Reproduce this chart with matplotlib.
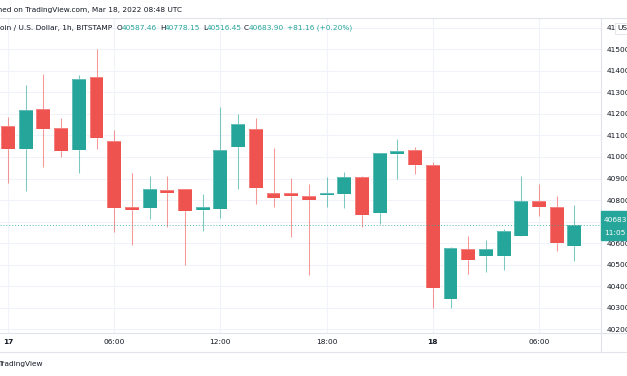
import matplotlib.pyplot as plt
from matplotlib.lines import Line2D
from matplotlib.patches import Rectangle

W, H = 627, 376
green = "#26a69a"
red = "#ef5350"
text_color = "#131722"
grid_color = "#f0f3fa"
border_color = "#e0e3eb"
fs = 5.3

# hourly candles, Mar 17 00:00 onwards
hours = list(range(33))
opens = [41144, 41036, 41225, 41135, 41033, 41370, 41073, 40766, 40763, 40847, 40853, 40754, 40760,
         41048, 41131, 40834, 40831, 40819, 40825, 40828, 40906, 40741, 41014, 41031, 40963, 40339,
         40574, 40542, 40542, 40632, 40796, 40768, 40587.46]
closes = [41036, 41220, 41131, 41026, 41361, 41088, 40763, 40754, 40850, 40831, 40748, 40769, 41031,
          41153, 40855, 40810, 40820, 40800, 40834, 40906, 40732, 41017, 41026, 40961, 40392, 40576,
          40523, 40571, 40656, 40797, 40769, 40601, 40683.90]
highs = [41187, 41334, 41385, 41181, 41381, 41500, 41125, 40926, 40912, 40910, 40853, 40828, 41232,
         41200, 41181, 41042, 40902, 40875, 40909, 40929, 40912, 41017, 41082, 41045, 40977, 40581,
         40632, 40616, 40666, 40912, 40875, 40818, 40778.15]
lows = [40878, 40844, 40955, 41000, 40926, 41036, 40653, 40591, 40714, 40676, 40497, 40658, 40718,
        40851, 40783, 40769, 40630, 40451, 40769, 40763, 40674, 40690, 40896, 40921, 40300, 40300,
        40457, 40466, 40477, 40632, 40727, 40565, 40516.45]

price_ticks = list(range(40200, 41700, 100))
time_ticks = [0, 6, 12, 18, 24, 30]
time_labels = ["17", "06:00", "12:00", "18:00", "18", "06:00"]
last_price = 40683.90


def fx(x):
    return x / W


def fy(y):
    return 1 - y / H


fig = plt.figure(figsize=(W / 100, H / 100), dpi=100)
fig.patch.set_facecolor("white")
ax = fig.add_axes([0, fy(333), fx(601), fy(18) - fy(333)])

colors = [green if c >= o else red for o, c in zip(opens, closes)]
bottoms = [min(o, c) for o, c in zip(opens, closes)]
heights = [max(abs(c - o), 3) for o, c in zip(opens, closes)]
ax.vlines(hours, lows, highs, colors=colors, linewidth=0.75, alpha=0.6, zorder=2)
ax.bar(hours, heights, bottom=bottoms, width=0.79, color=colors, zorder=3)
ax.bar(hours, heights, bottom=bottoms, width=0.79, facecolor="none", edgecolor="white",
       linewidth=0.4, alpha=0.5, zorder=3)

ax.axhline(last_price, color=green, linewidth=0.7, linestyle=(0, (1, 2)), alpha=0.8, zorder=4)

ax.set_xlim(-8 / 17.7, 593 / 17.7)
ax.set_ylim(40182.8, 41645.4)
ax.set_yticks(price_ticks)
ax.set_xticks(time_ticks)
ax.set_xticklabels(time_labels)
for lbl, t in zip(ax.get_xticklabels(), time_labels):
    if ":" not in t:
        lbl.set_fontweight("bold")
ax.yaxis.tick_right()
ax.tick_params(axis="y", length=0, pad=4.3, labelsize=fs, labelcolor=text_color)
ax.tick_params(axis="x", length=0, pad=4.0, labelsize=fs, labelcolor=text_color)
ax.grid(True, color=grid_color, linewidth=0.8, zorder=0)
ax.set_axisbelow(True)
for s in ax.spines.values():
    s.set_visible(False)

# frame lines
for y in (18, 333, 352):
    fig.add_artist(Line2D([0, 1], [fy(y), fy(y)], color=border_color, linewidth=0.8))
fig.add_artist(Line2D([fx(601), fx(601)], [fy(18), fy(352)], color=border_color, linewidth=0.8))

# last price label
fig.add_artist(Rectangle((fx(601), fy(240)), fx(30), fy(211) - fy(240), color=green, zorder=5))
fig.text(fx(604), fy(220), "40683.90", fontsize=fs, color="white", va="center", zorder=6)
fig.text(fx(604), fy(233), "11:05", fontsize=fs, color="white", va="center", zorder=6)

# currency label
fig.add_artist(Rectangle((fx(615), fy(34)), fx(14), fy(23) - fy(34), facecolor="white",
                         edgecolor=border_color, linewidth=0.6, zorder=5))
fig.text(fx(617), fy(28.5), "USD", fontsize=fs, color=text_color, va="center", zorder=6)

# header and legend
fig.text(fx(182), fy(10), "Published on TradingView.com, Mar 18, 2022 08:48 UTC", fontsize=fs,
         color=text_color, ha="right", va="center")
fig.text(fx(112), fy(28), "Bitcoin / U.S. Dollar, 1h, BITSTAMP", fontsize=fs,
         color=text_color, ha="right", va="center")
legend_parts = [(117, "O", text_color), (121.5, "40587.46", green),
                (160, "H", text_color), (164.5, "40778.15", green),
                (203, "L", text_color), (207, "40516.45", green),
                (243.5, "C", text_color), (248.5, "40683.90", green),
                (287, "+81.16 (+0.20%)", green)]
for x, s, c in legend_parts:
    fig.text(fx(x), fy(28), s, fontsize=fs, color=c, va="center")

fig.text(fx(43), fy(364), "TradingView", fontsize=fs, color=text_color, ha="right", va="center")

fig.savefig("out.png", dpi=100)
